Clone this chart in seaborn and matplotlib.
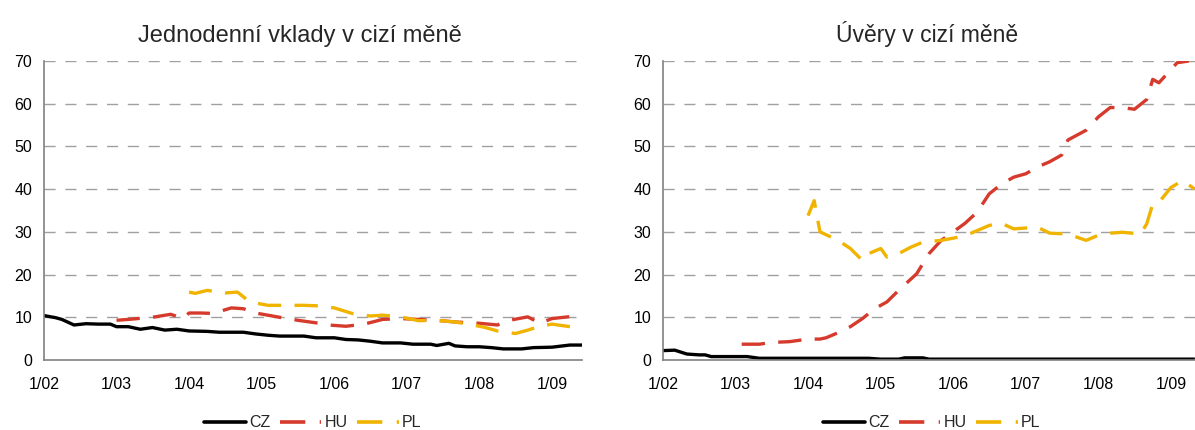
import pandas as pd
import seaborn as sns
import matplotlib.pyplot as plt
import matplotlib.dates as mdates
from matplotlib.lines import Line2D

# Jednodenní vklady v cizí měně
dep_cz_dates = ['2002-01', '2002-03', '2002-04', '2002-06', '2002-08', '2002-10', '2002-12',
                '2003-01', '2003-03', '2003-05', '2003-07', '2003-09', '2003-11', '2004-01',
                '2004-04', '2004-06', '2004-10', '2004-12', '2005-02', '2005-04', '2005-08',
                '2005-10', '2006-01', '2006-03', '2006-05', '2006-07', '2006-09', '2006-12',
                '2007-02', '2007-05', '2007-06', '2007-08', '2007-09', '2007-11', '2008-01',
                '2008-03', '2008-05', '2008-08', '2008-10', '2009-01', '2009-04', '2009-06']
dep_cz = [10.4, 9.9, 9.5, 8.2, 8.5, 8.4, 8.4, 7.8, 7.8, 7.2, 7.6, 7.0, 7.2, 6.8,
          6.7, 6.5, 6.5, 6.1, 5.8, 5.6, 5.6, 5.2, 5.2, 4.8, 4.7, 4.4, 4.0, 4.0,
          3.7, 3.7, 3.4, 3.9, 3.3, 3.1, 3.1, 2.9, 2.6, 2.6, 2.9, 3.0, 3.5, 3.5]

dep_hu_dates = ['2003-01', '2003-03', '2003-07', '2003-10', '2003-12', '2004-01', '2004-03',
                '2004-05', '2004-08', '2004-10', '2004-12', '2005-04', '2005-07', '2005-10',
                '2005-12', '2006-03', '2006-06', '2006-09', '2006-12', '2007-03', '2007-06',
                '2007-09', '2008-01', '2008-04', '2008-06', '2008-09', '2008-11', '2009-01',
                '2009-05']
dep_hu = [9.3, 9.5, 10.0, 10.7, 9.7, 11.0, 11.0, 10.9, 12.2, 12.0, 11.0, 10.0, 9.3, 8.7,
          8.2, 7.9, 8.4, 9.5, 9.7, 9.5, 9.3, 8.9, 8.6, 8.2, 9.3, 10.1, 8.6, 9.7, 10.3]

dep_pl_dates = ['2004-01', '2004-02', '2004-04', '2004-07', '2004-09', '2004-11', '2005-02',
                '2005-05', '2005-08', '2005-10', '2006-01', '2006-04', '2006-07', '2006-09',
                '2006-12', '2007-03', '2007-06', '2007-09', '2007-12', '2008-02', '2008-04',
                '2008-07', '2008-09', '2008-11', '2009-01', '2009-04']
dep_pl = [15.9, 15.6, 16.3, 15.7, 15.9, 13.6, 12.8, 12.8, 12.8, 12.7, 12.2, 10.9, 10.3, 10.5,
          10.1, 9.2, 9.3, 8.9, 8.2, 7.6, 6.8, 6.2, 7.0, 7.9, 8.4, 7.8]

# Úvěry v cizí měně
loan_cz_dates = ['2002-01', '2002-03', '2002-05', '2002-07', '2002-08', '2002-09', '2003-03',
                 '2003-05', '2004-11', '2005-01', '2005-04', '2005-05', '2005-08', '2005-09',
                 '2009-05']
loan_cz = [2.2, 2.3, 1.4, 1.2, 1.2, 0.8, 0.8, 0.4, 0.4, 0.2, 0.2, 0.5, 0.5, 0.2, 0.2]

loan_hu_dates = ['2003-02', '2003-05', '2003-07', '2003-10', '2004-01', '2004-03', '2004-04',
                 '2004-06', '2004-08', '2004-10', '2004-12', '2005-02', '2005-04', '2005-07',
                 '2005-09', '2005-11', '2006-01', '2006-03', '2006-05', '2006-07', '2006-09',
                 '2006-11', '2007-01', '2007-03', '2007-05', '2007-07', '2007-08', '2007-11',
                 '2008-01', '2008-03', '2008-05', '2008-07', '2008-09', '2008-10', '2008-11',
                 '2009-01', '2009-02', '2009-04']
loan_hu = [3.7, 3.7, 4.1, 4.3, 4.9, 4.9, 5.2, 6.4, 7.8, 9.7, 12.0, 13.6, 16.3, 20.2,
           24.9, 28.0, 30.0, 32.0, 34.6, 38.9, 41.2, 42.8, 43.6, 45.2, 46.4, 48.0, 51.5, 53.8,
           56.9, 59.1, 59.1, 58.7, 61.0, 65.7, 64.9, 68.0, 69.6, 70.0]

loan_pl_dates = ['2004-01', '2004-02', '2004-03', '2004-06', '2004-08', '2004-10', '2004-11',
                 '2005-01', '2005-02', '2005-04', '2005-06', '2005-08', '2005-11', '2006-02',
                 '2006-04', '2006-07', '2006-09', '2006-11', '2007-03', '2007-05', '2007-08',
                 '2007-11', '2008-01', '2008-03', '2008-05', '2008-08', '2008-09', '2008-10',
                 '2008-11', '2009-01', '2009-03', '2009-05']
loan_pl = [33.8, 37.3, 30.0, 28.0, 26.1, 23.3, 24.9, 26.1, 24.1, 24.9, 26.4, 27.6, 28.0, 28.8,
           29.7, 31.5, 32.0, 30.7, 31.1, 29.7, 29.5, 28.0, 29.2, 29.7, 29.9, 29.5, 31.9, 36.5,
           36.9, 40.4, 42.0, 40.0]

titles = ['Jednodenní vklady v cizí měně', 'Úvěry v cizí měně']
countries = ['CZ', 'HU', 'PL']
colors = {'CZ': '#000000', 'HU': '#D63A2C', 'PL': '#F0B400'}
dashes = {'CZ': '', 'HU': (7, 4), 'PL': (7, 4)}
year_ticks = [str(y) for y in range(2002, 2010)]


def frame(series):
    parts = []
    for country, (dates, vals) in zip(countries, series):
        parts.append(pd.DataFrame({'date': pd.to_datetime(dates), 'value': vals,
                                   'country': country}))
    return pd.concat(parts, ignore_index=True)


deposits = frame([(dep_cz_dates, dep_cz), (dep_hu_dates, dep_hu), (dep_pl_dates, dep_pl)])
loans = frame([(loan_cz_dates, loan_cz), (loan_hu_dates, loan_hu), (loan_pl_dates, loan_pl)])

sns.set_style('white')
plt.rcParams['font.family'] = ['Liberation Sans', 'DejaVu Sans']

fig = plt.figure(figsize=(11.95, 4.30), dpi=100)
ax1 = fig.add_axes([44 / 1195, 70 / 430, 538 / 1195, 299 / 430])
ax2 = fig.add_axes([663 / 1195, 70 / 430, 538 / 1195, 299 / 430])

for ax, df, title, tsize, tx in [(ax1, deposits, titles[0], 17, 0.476),
                                 (ax2, loans, titles[1], 16.5, 0.49)]:
    sns.lineplot(data=df, x='date', y='value', hue='country', style='country',
                 palette=colors, dashes=dashes, linewidth=2.4, ax=ax, legend=False)
    for line in ax.get_lines():
        line.set_solid_capstyle('butt')
        line.set_dash_capstyle('butt')
    ax.set_xlim(pd.Timestamp('2002-01-01'), pd.Timestamp('2009-06-01'))
    ax.set_ylim(0, 70)
    ax.set_yticks(range(0, 71, 10))
    ax.set_xticks(pd.to_datetime(year_ticks))
    ax.xaxis.set_major_formatter(mdates.DateFormatter('1/%y'))
    ax.set_xlabel('')
    ax.set_ylabel('')
    ax.set_title(title, fontsize=tsize, pad=14, x=tx)
    for y in range(10, 71, 10):
        ax.axhline(y, color='#a0a0a0', lw=1, dashes=(8, 7), zorder=0)
    sns.despine(ax=ax)
    for side in ['left', 'bottom']:
        ax.spines[side].set_color('#808080')
        ax.spines[side].set_linewidth(1.2)
    ax.tick_params(axis='both', labelsize=11.5, colors='#808080', labelcolor='#000000',
                   direction='out', length=5, width=1)
    ax.tick_params(axis='x', pad=7)
    handles = [Line2D([], [], color=colors['CZ'], lw=2.6)]
    for c in countries[1:]:
        h = Line2D([], [], color=colors[c], lw=2.6)
        h.set_dashes(dashes[c])
        handles.append(h)
    ax.legend(handles, countries, loc='center', bbox_to_anchor=(0.5, -0.21), ncol=3,
              frameon=False, fontsize=11.5, handlelength=2.6, handletextpad=0.2,
              columnspacing=0.6)

fig.savefig('out.png', dpi=100)
